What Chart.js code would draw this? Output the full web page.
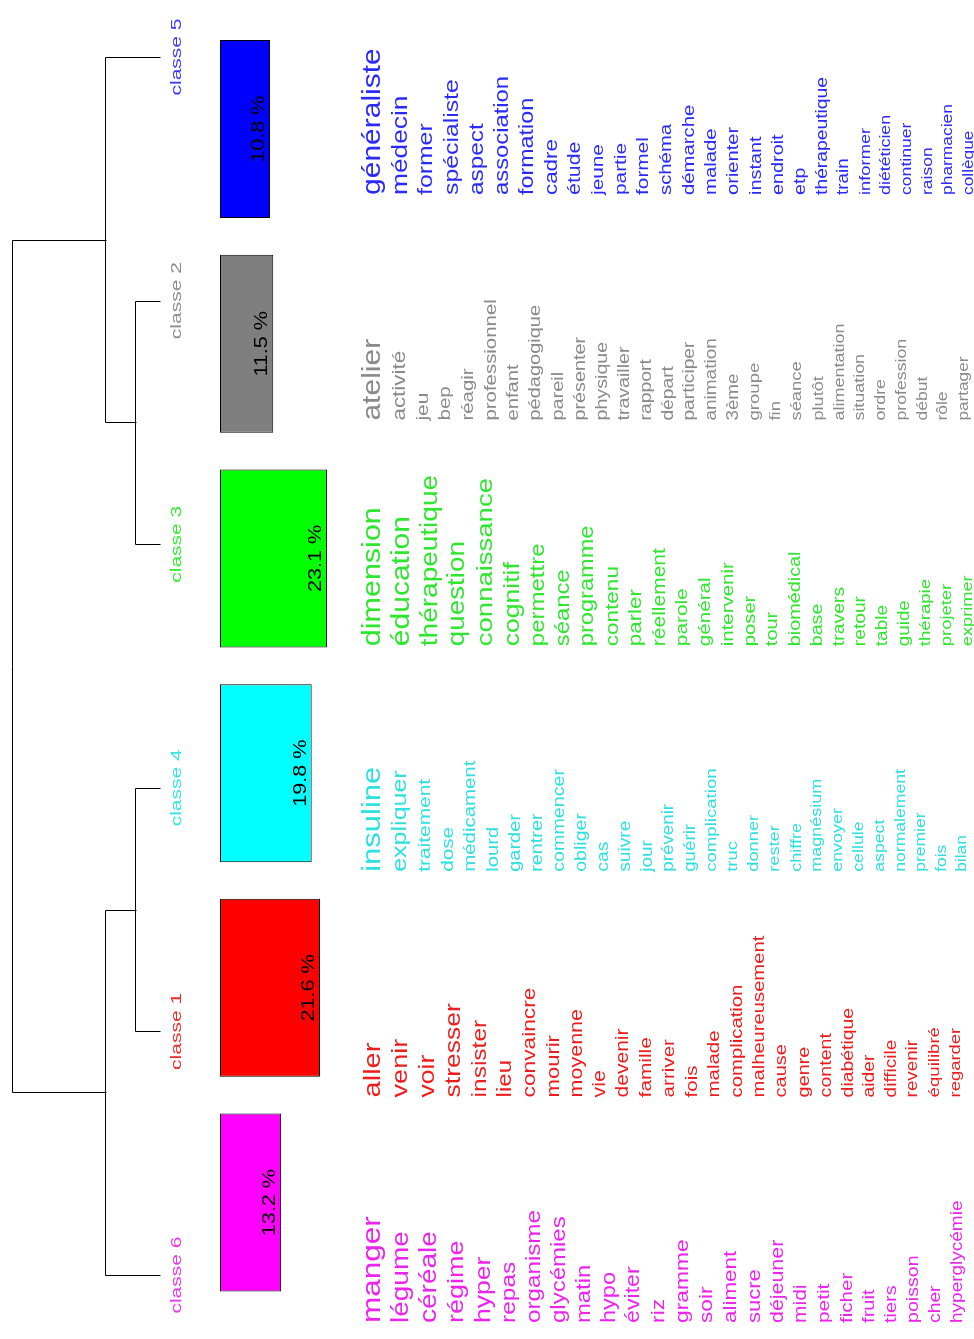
<!DOCTYPE html>
<html><head><meta charset="utf-8">
<script src="https://cdn.jsdelivr.net/npm/chart.js@4.4.1/dist/chart.umd.min.js"></script>
<style>html,body{margin:0;padding:0;background:#fff;overflow:hidden}#wrap{width:974px;height:1339px}</style>
</head><body><div id="wrap"><canvas id="c" width="974" height="1339"></canvas></div>
<script>
// ---- data ----
const classes = ['classe 5','classe 2','classe 3','classe 4','classe 1','classe 6'];
const percentages = [10.8, 11.5, 23.1, 19.8, 21.6, 13.2];

const wordsClasse5 = ['généraliste','médecin','former','spécialiste','aspect','association','formation','cadre','étude','jeune','partie','formel','schéma','démarche','malade','orienter','instant','endroit','etp','thérapeutique','train','informer','diététicien','continuer','raison','pharmacien','collègue'];
const chi2Classe5 = [160,123,108,108,103,98,93,83,73,68,68,68,63,63,63,61,59,58,56,53,48,43,38,36,35,34,33];

const wordsClasse2 = ['atelier','activité','jeu','bep','réagir','professionnel','enfant','pédagogique','pareil','présenter','physique','travailler','rapport','départ','participer','animation','3ème','groupe','fin','séance','plutôt','alimentation','situation','ordre','profession','début','rôle','partager'];
const chi2Classe2 = [160,84,69,66,64,64,62,60,59,58,57,56,54,52,52,50,48,46,44,44,42,40,39,38,37,36,34,32];

const wordsClasse3 = ['dimension','éducation','thérapeutique','question','connaissance','cognitif','permettre','séance','programme','contenu','parler','réellement','parole','général','intervenir','poser','tour','biomédical','base','travers','retour','table','guide','thérapie','projeter','exprimer'];
const chi2Classe3 = [165,160,140,138,135,125,100,98,96,85,83,70,68,66,64,62,60,58,56,54,52,50,48,46,44,42];

const wordsClasse4 = ['insuline','expliquer','traitement','dose','médicament','lourd','garder','rentrer','commencer','obliger','cas','suivre','jour','prévenir','guérir','complication','truc','donner','rester','chiffre','magnésium','envoyer','cellule','aspect','normalement','premier','fois','bilan'];
const chi2Classe4 = [170,110,69,67,64,62,60,58,57,56,54,52,50,48,47,46,44,43,42,41,40,39,38,37,36,35,34,33];

const wordsClasse1 = ['aller','venir','voir','stresser','insister','lieu','convaincre','mourir','moyenne','vie','devenir','famille','arriver','fois','malade','complication','malheureusement','cause','genre','content','diabétique','aider','difficile','revenir','équilibré','regarder'];
const chi2Classe1 = [150,130,125,125,105,100,87,80,75,73,70,68,66,65,64,63,62,60,58,56,54,52,50,48,46,44];

const wordsClasse6 = ['manger','légume','céréale','régime','hyper','repas','organisme','glycémies','matin','hypo','éviter','riz','gramme','soir','aliment','sucre','déjeuner','midi','petit','ficher','fruit','tiers','poisson','cher','hyperglycémie'];
const chi2Classe6 = [175,140,140,130,125,105,102,100,98,95,92,90,88,86,84,80,74,70,68,66,62,60,56,53,50];

// dendrogram: [left, right, height]; nodes created in order are referenced as 'n0'..'n4'
const dendroMerges = [
  ['classe 2','classe 3', 1.0],
  ['classe 4','classe 1', 1.0],
  ['classe 5','n0', 2.2],
  ['n1','classe 6', 2.2],
  ['n2','n3', 5.92]
];

// ---- styles ----
const classColors = ['#0000ff','#7f7f7f','#00ff00','#00ffff','#ff0000','#ff00ff'];
const labelColors = ['#3a3aff','#8c8c8c','#33ee33','#33e6e6','#f02a2a','#ee33ee'];
const wordColors  = ['#2a2aff','#8a8a8a','#2ee62e','#2ee0e0','#f01c1c','#ee22ee'];
const FONT = '"Liberation Sans", Arial, sans-serif';
const STRETCH = 1.2;

const wordLists = [wordsClasse5, wordsClasse2, wordsClasse3, wordsClasse4, wordsClasse1, wordsClasse6];
const chi2Lists = [chi2Classe5, chi2Classe2, chi2Classe3, chi2Classe4, chi2Classe1, chi2Classe6];

function rotText(ctx, text, x, y, size, stretch, color, align) {
  ctx.save();
  ctx.translate(x, y);
  ctx.rotate(-Math.PI / 2);
  ctx.scale(stretch, 1);
  ctx.font = size + 'px ' + FONT;
  ctx.fillStyle = color;
  ctx.textAlign = align;
  ctx.textBaseline = 'middle';
  ctx.fillText(text, 0, 0);
  ctx.restore();
}

const decorPlugin = {
  id: 'decor',
  afterDatasetsDraw(chart) {
    const ctx = chart.ctx;
    const xs = chart.scales.x, yLeaf = chart.scales.yLeaf, yWords = chart.scales.yWords, xd = chart.scales.xDend;
    // percentage labels
    const meta = chart.getDatasetMeta(0);
    meta.data.forEach((bar, i) => {
      rotText(ctx, percentages[i].toFixed(1) + ' %', bar.x - 11, bar.y, 18, STRETCH, '#000', 'center');
    });
    // dendrogram
    const pos = {};
    classes.forEach((c, i) => { pos[c] = { y: yLeaf.getPixelForValue(i), x: xd.getPixelForValue(0) }; });
    ctx.save();
    ctx.strokeStyle = '#000';
    ctx.lineWidth = 1;
    dendroMerges.forEach((m, k) => {
      const a = pos[m[0]], b = pos[m[1]];
      const x = Math.round(xd.getPixelForValue(m[2])) + 0.5;
      const ya = Math.round(a.y) + 0.5, yb = Math.round(b.y) + 0.5;
      ctx.beginPath();
      ctx.moveTo(Math.round(a.x) + 0.5, ya); ctx.lineTo(x, ya); ctx.lineTo(x, yb); ctx.lineTo(Math.round(b.x) + 0.5, yb);
      ctx.stroke();
      pos['n' + k] = { y: (a.y + b.y) / 2, x: x };
    });
    ctx.restore();
    // class labels at leaves
    classes.forEach((c, i) => {
      rotText(ctx, c, pos[c].x + 17, pos[c].y, 15, 1.4, labelColors[i], 'center');
    });
    // word columns
    const x0 = xs.getPixelForValue(0) + 153;
    wordLists.forEach((words, ci) => {
      const y0 = yWords.getPixelForValue(ci);
      const chi = chi2Lists[ci];
      let x = x0, prevL = null;
      words.forEach((w, j) => {
        const L = 14 + chi[j] / 10;
        if (prevL !== null) x += 0.67 * (prevL + L) / 2 + 8.9;
        rotText(ctx, w, x, y0, L / STRETCH, STRETCH, wordColors[ci], 'left');
        prevL = L;
      });
    });
  }
};

new Chart(document.getElementById('c'), {
  type: 'bar',
  data: {
    labels: classes,
    datasets: [{
      data: percentages,
      backgroundColor: classColors,
      borderColor: '#000',
      borderWidth: 1,
      borderSkipped: false,
      barPercentage: 0.829,
      categoryPercentage: 1
    }]
  },
  options: {
    indexAxis: 'y',
    responsive: false,
    animation: false,
    layout: { padding: { top: 21.7, bottom: 29.1, left: 0, right: 0 } },
    plugins: { legend: { display: false }, tooltip: { enabled: false } },
    scales: {
      x: { type: 'linear', min: -47.52, max: 162.85, display: false },
      y: { type: 'category', display: false, offset: true },
      yLeaf: { type: 'linear', axis: 'y', min: -0.1449, max: 5.143, reverse: true, offset: false, display: false },
      yWords: { type: 'linear', axis: 'y', min: -0.768, max: 4.942, reverse: true, offset: false, display: false },
      xDend: { type: 'linear', axis: 'x', min: -32.56, max: 6.4, reverse: true, offset: false, display: false }
    }
  },
  plugins: [decorPlugin]
});
</script></body></html>
